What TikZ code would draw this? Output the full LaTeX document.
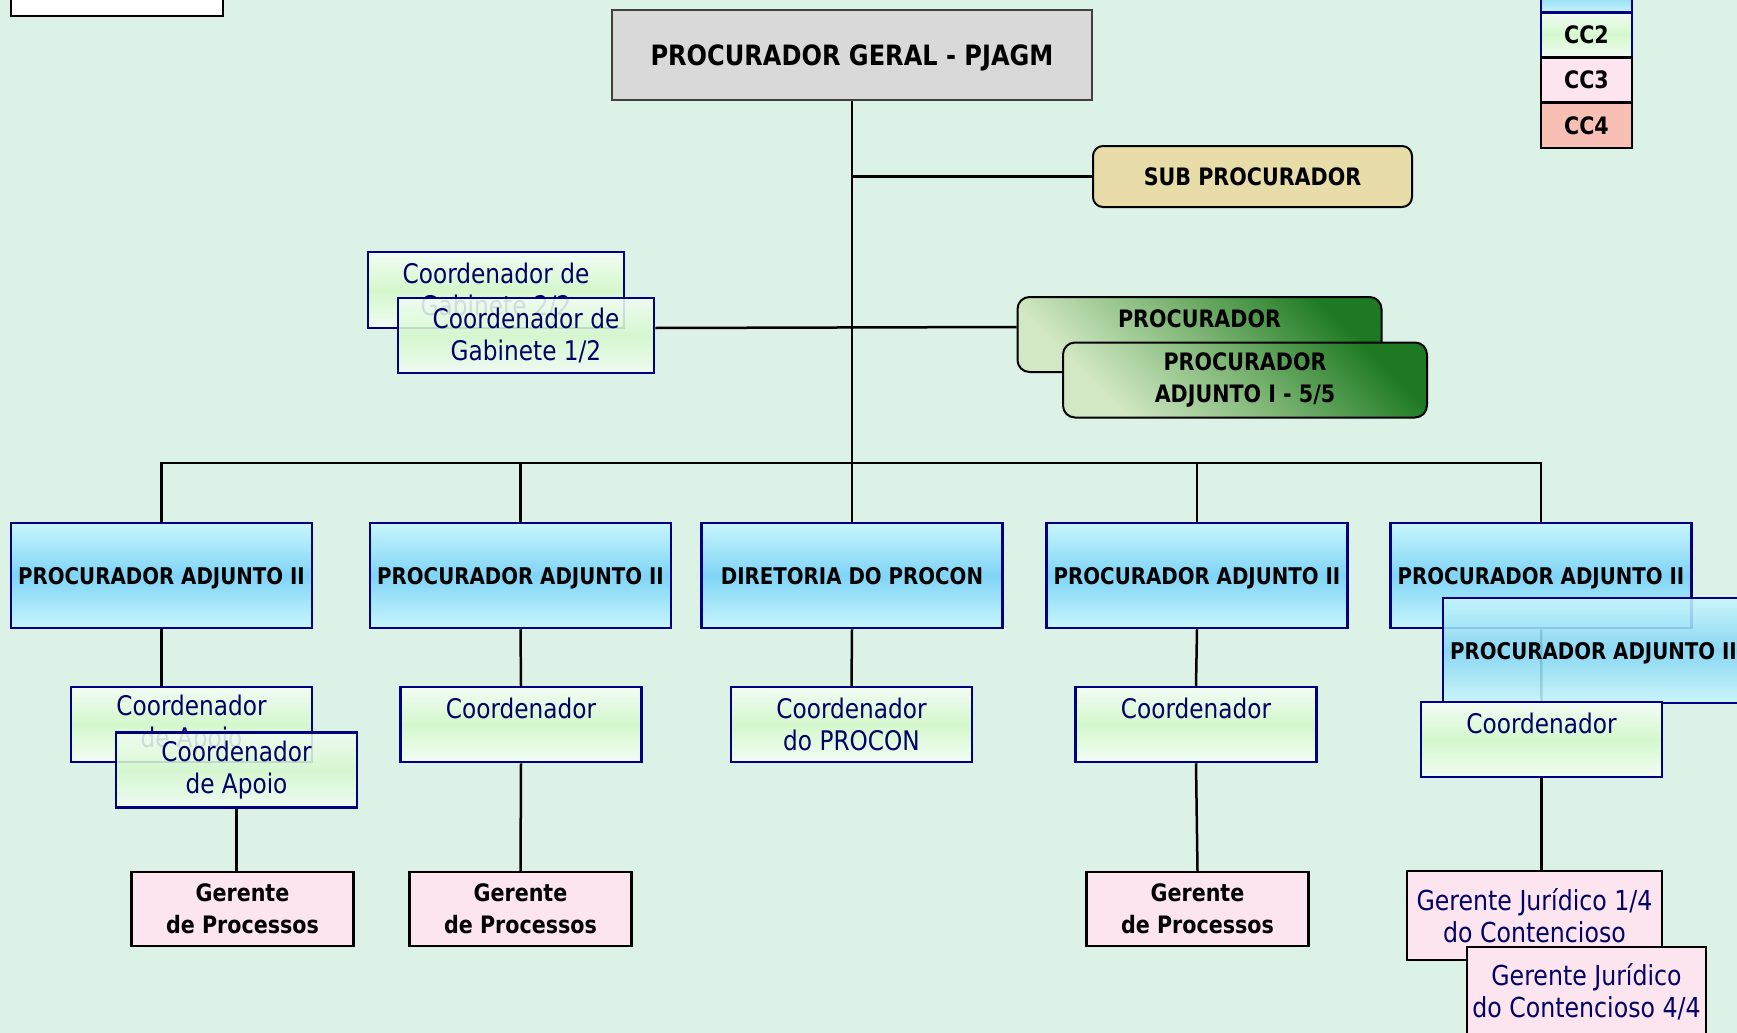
\documentclass[tikz,border=0pt]{standalone}
\usepackage{fontspec}
\setmainfont{DejaVu Sans}[FakeStretch=0.86]
\usepackage{tikz}
\usetikzlibrary{calc}
\definecolor{fundo}{HTML}{DDF2E7}
\definecolor{azulb}{HTML}{000080}
\definecolor{azult}{HTML}{000066}
\definecolor{ciano}{HTML}{C8F6FC}
\definecolor{cianoe}{HTML}{80D4F6}
\definecolor{verdec}{HTML}{F2FCF4}
\definecolor{verdem}{HTML}{D4F8CC}
\definecolor{rosa}{HTML}{FDE5F0}
\definecolor{salmao}{HTML}{F8C0B4}
\definecolor{areia}{HTML}{E8DCA8}
\definecolor{cinza}{HTML}{D9D9D9}
\definecolor{verdee}{HTML}{1E7A22}
\definecolor{verdem2}{HTML}{7DB574}
\definecolor{verdeb}{HTML}{D2E8C4}
\pgfdeclarelayer{bg}
\pgfdeclarelayer{lig}
\pgfsetlayers{bg,lig,main}
\tikzset{
  caixa/.style={line width=2.5pt, inner sep=0pt, align=center},
  paii/.style={caixa, draw=azulb, top color=ciano, bottom color=ciano, middle color=cianoe,
    minimum width=301pt, minimum height=105pt, text depth=0pt,
    font=\fontsize{23}{32}\selectfont\bfseries},
  coord/.style={caixa, draw=azulb, top color=verdec, bottom color=verdec, middle color=verdem,
    minimum width=241pt, minimum height=75pt, text=azult, font=\fontsize{27}{32}\selectfont},
  ger/.style={caixa, draw=black, fill=rosa, minimum width=222pt, minimum height=74pt,
    font=\fontsize{24}{32}\selectfont\bfseries},
  gerj/.style={ger, minimum width=255pt, minimum height=89pt, text=azult,
    font=\fontsize{27.5}{32}\selectfont},
  verde/.style={caixa, line width=2pt, draw=black, rounded corners=12pt, top color=verdee,
    bottom color=verdeb, middle color=verdem2, shading angle=-45, minimum width=364pt,
    minimum height=75pt, font=\fontsize{24}{32}\selectfont\bfseries},
  legenda/.style={caixa, draw=black, minimum width=91pt, minimum height=45pt,
    font=\fontsize{24}{32}\selectfont\bfseries},
  frente/.style={fill opacity=0.88, text opacity=1},
  fio/.style={black, line width=2.5pt}
}

\begin{document}
\begin{tikzpicture}[x=1pt, y=-1pt]
\useasboundingbox (0,0) rectangle (1737,1033);
\begin{pgfonlayer}{bg}
\fill[fundo] (0,0) rectangle (1737,1033);
\end{pgfonlayer}

\node[caixa, draw=black, line width=2pt, fill=white, minimum width=212pt,
  minimum height=76pt] (topo) at (117,-22) {};

\node[caixa, draw=black!75, line width=2pt, fill=cinza, minimum width=480pt,
  minimum height=90pt, text depth=0pt, font=\fontsize{28}{32}\selectfont\bfseries]
  (geral) at (852,55) {PROCURADOR GERAL - PJAGM};

\node[legenda, draw=azulb, top color=ciano, bottom color=ciano, middle color=cianoe]
  (cc1) at (1586.5,-9.5) {CC1};
\node[legenda, draw=azulb, top color=verdec, bottom color=verdec, middle color=verdem]
  (cc2) at (1586.5,35) {CC2};
\node[legenda, fill=rosa] (cc3) at (1586.5,80) {CC3};
\node[legenda, fill=salmao] (cc4) at (1586.5,125.5) {CC4};

\node[caixa, draw=black, line width=2pt, fill=areia, rounded corners=10pt,
  minimum width=319pt, minimum height=61pt, font=\fontsize{24}{32}\selectfont\bfseries]
  (sub) at (1252.5,176.5) {SUB PROCURADOR};

\node[coord, minimum width=256pt, minimum height=76pt] (gab2) at (496,290)
{Coordenador de\\Gabinete 2/2};
\node[coord, frente, minimum width=256pt] (gab1) at (526,335.5)
{Coordenador de\\Gabinete 1/2};

\node[verde] (proc) at (1199.5,334.5) {PROCURADOR\\~};
\node[verde] (procadj) at (1245,380) {PROCURADOR\\ADJUNTO I - 5/5};

\node[paii] (pa1) at (161.5,575.5) {PROCURADOR ADJUNTO II};
\node[paii] (pa2) at (520.5,575.5) {PROCURADOR ADJUNTO II};
\node[paii] (dir) at (852,575.5) {DIRETORIA DO PROCON};
\node[paii] (pa4) at (1197,575.5) {PROCURADOR ADJUNTO II};
\node[paii] (pa5) at (1541,575.5) {PROCURADOR ADJUNTO II};
\node[paii, frente] (pa5b) at (1593.5,650.5) {PROCURADOR ADJUNTO II};

\node[coord] (apoioB) at (191.5,724.5) {Coordenador\\de Apoio};
\node[coord, frente] (apoioF) at (236.5,770) {Coordenador\\de Apoio};
\node[coord] (coord2) at (521,724.5) {Coordenador\\~};
\node[coord] (coordP) at (851.5,724.5) {Coordenador\\do PROCON};
\node[coord] (coord4) at (1196,724.5) {Coordenador\\~};
\node[coord] (coord5) at (1541.5,739.5) {Coordenador\\~};

\node[ger] (g1) at (242.5,909) {Gerente\\de Processos};
\node[ger] (g2) at (520.5,909) {Gerente\\de Processos};
\node[ger] (g4) at (1197.5,909) {Gerente\\de Processos};
\node[gerj] (gj1) at (1534.5,915.5) {Gerente Jurídico 1/4\\do Contencioso};
\node[gerj, minimum width=239pt] (gj4) at (1586.5,991.5)
{Gerente Jurídico\\do Contencioso 4/4};

\begin{pgfonlayer}{lig}
\coordinate (bus) at (852,463);
\draw[fio] (geral.south) -- (dir.north);
\draw[fio] (geral.south) |- (sub.west);
\draw[fio] ([yshift=7.5pt]gab1.east) -- ([yshift=7.5pt]proc.west);
\draw[fio] (pa1.north) |- (bus) -| (pa5.north);
\draw[fio] (bus) -| (pa2.north);
\draw[fio] (bus) -| (pa4.north);
\draw[fio] (pa1.south) -- (pa1.south |- apoioB.north);
\draw[fio] (apoioF.south) -- (apoioF.south |- g1.north);
\draw[fio] (pa2.south) -- (coord2.north);
\draw[fio] (coord2.south) -- (g2.north);
\draw[fio] (dir.south) -- (coordP.north);
\draw[fio] (pa4.south) -- (coord4.north);
\draw[fio] (coord4.south) -- (g4.north);
\draw[fio] (pa5.south) -- (coord5.north);
\draw[fio] (coord5.south) -- (coord5.south |- gj1.north);
\end{pgfonlayer}
\end{tikzpicture}
\end{document}
